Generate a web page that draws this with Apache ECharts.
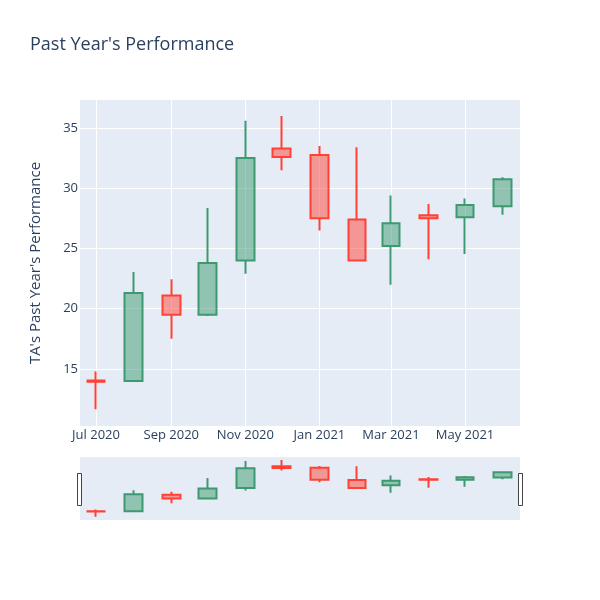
<!DOCTYPE html>
<html>
<head>
<meta charset="utf-8">
<script src="https://cdn.jsdelivr.net/npm/echarts@6/dist/echarts.min.js"></script>
<style>html,body{margin:0;padding:0;background:#fff}#c{width:600px;height:600px}</style>
</head>
<body>
<div id="c"></div>
<script>
const dates = ['2020-07-01','2020-08-01','2020-09-01','2020-10-01','2020-11-01','2020-12-01','2021-01-01','2021-02-01','2021-03-01','2021-04-01','2021-05-01','2021-06-01'];
const openVals  = [14.05, 14.0, 21.1, 19.5, 24.0, 33.3, 32.75, 27.4, 25.2, 27.75, 27.6, 28.5];
const closeVals = [13.95, 21.3, 19.5, 23.8, 32.5, 32.6, 27.5, 24.0, 27.1, 27.5, 28.6, 30.75];
const lowVals   = [11.65, 14.0, 17.5, 19.4, 22.9, 31.5, 26.5, 24.0, 22.0, 24.1, 24.55, 27.8];
const highVals  = [14.8, 23.05, 22.45, 28.35, 35.6, 36.0, 33.5, 33.4, 29.4, 28.7, 29.15, 30.9];
const yTicks = [15, 20, 25, 30, 35];
const xTickDates = ['2020-07-01','2020-09-01','2020-11-01','2021-01-01','2021-03-01','2021-05-01'];
const xTickLabels = ['Jul 2020','Sep 2020','Nov 2020','Jan 2021','Mar 2021','May 2021'];

function ts(s){ const p = s.split('-').map(Number); return Date.UTC(p[0], p[1]-1, p[2]); }
const data = dates.map((d,i)=>[ts(d), openVals[i], closeVals[i], lowVals[i], highVals[i]]);
const xTickTs = xTickDates.map(ts);
const xMin = ts('2020-07-01') - 13.2*86400000;
const xMax = ts('2021-06-01') + 14.3*86400000;
const yMin = 10.27, yMax = 37.32;
const font = '"Open Sans", sans-serif';
const txt = '#2a3f5f';

const candleStyle = {
  color: 'rgba(61,153,112,0.5)',
  color0: 'rgba(255,65,54,0.5)',
  borderColor: '#3D9970',
  borderColor0: '#FF4136',
  borderWidth: 2
};

const chart = echarts.init(document.getElementById('c'), null, {renderer:'canvas'});
chart.setOption({
  animation: false,
  backgroundColor: '#fff',
  title: {
    text: "Past Year's Performance",
    left: 30, top: 36, padding: 0,
    textStyle: {fontFamily: font, fontSize: 18, fontWeight: 'normal', color: txt}
  },
  grid: [
    {left: 80, top: 100, width: 440, height: 326, show: true, backgroundColor: '#E5ECF6', borderWidth: 0},
    {left: 80, top: 457, width: 440, height: 63, show: true, backgroundColor: '#E5ECF6', borderWidth: 0}
  ],
  xAxis: [
    {
      type: 'value', gridIndex: 0, min: xMin, max: xMax, scale: true,
      axisLine: {show: false},
      axisTick: {show: false, customValues: xTickTs},
      axisLabel: {
        customValues: xTickTs, margin: 3,
        color: txt, fontFamily: font, fontSize: 13,
        formatter: function(v){ const i = xTickTs.indexOf(v); return i >= 0 ? xTickLabels[i] : ''; }
      },
      splitLine: {show: true, lineStyle: {color: '#fff', width: 1}}
    },
    {
      type: 'value', gridIndex: 1, min: xMin, max: xMax, scale: true,
      axisLine: {show: false}, axisTick: {show: false}, axisLabel: {show: false}, splitLine: {show: false}
    }
  ],
  yAxis: [
    {
      type: 'value', gridIndex: 0, min: yMin, max: yMax, scale: true,
      name: "TA's Past Year's Performance", nameLocation: 'middle', nameGap: 37,
      nameTextStyle: {fontFamily: font, fontSize: 15, color: txt},
      axisLine: {show: false},
      axisTick: {show: false, customValues: yTicks},
      axisLabel: {customValues: yTicks, margin: 2, color: txt, fontFamily: font, fontSize: 13},
      splitLine: {show: true, lineStyle: {color: '#fff', width: 1}}
    },
    {
      type: 'value', gridIndex: 1, min: yMin, max: yMax, scale: true,
      axisLine: {show: false}, axisTick: {show: false}, axisLabel: {show: false}, splitLine: {show: false}
    }
  ],
  series: [
    {
      type: 'candlestick', xAxisIndex: 0, yAxisIndex: 0, data: data,
      encode: {x: 0, y: [1, 2, 3, 4]}, barWidth: 18, itemStyle: candleStyle
    },
    {
      type: 'candlestick', xAxisIndex: 1, yAxisIndex: 1, data: data,
      encode: {x: 0, y: [1, 2, 3, 4]}, barWidth: 18, itemStyle: candleStyle, silent: true
    }
  ],
  graphic: [
    {type: 'rect', shape: {x: 77.5, y: 473.5, width: 4, height: 32}, style: {fill: '#fff', stroke: '#444', lineWidth: 1}},
    {type: 'rect', shape: {x: 518.5, y: 473.5, width: 4, height: 32}, style: {fill: '#fff', stroke: '#444', lineWidth: 1}}
  ]
});
</script>
</body>
</html>
